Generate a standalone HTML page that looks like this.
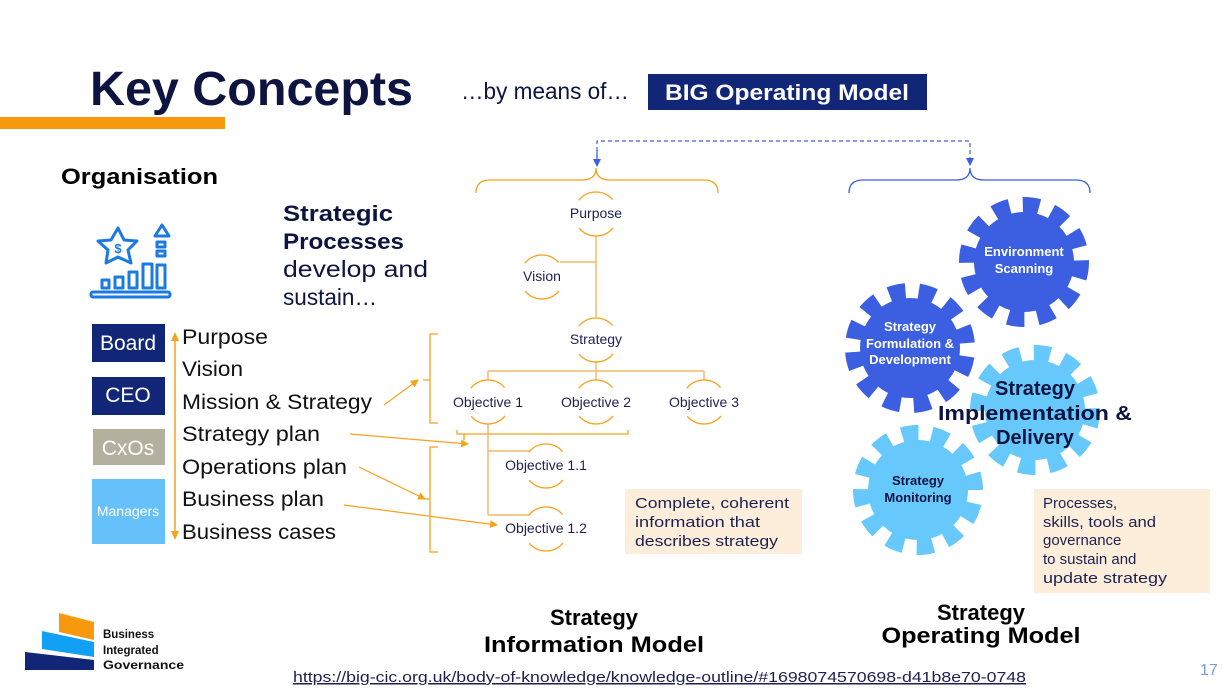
<!DOCTYPE html>
<html><head><meta charset="utf-8"><style>
html,body{margin:0;padding:0;background:#fff}
svg{display:block}
text{font-family:"Liberation Sans",sans-serif}
</style></head><body>
<svg width="1225" height="693" viewBox="0 0 1225 693" xmlns="http://www.w3.org/2000/svg">
<defs>
<marker id="ao" markerWidth="8" markerHeight="8" refX="7" refY="4" orient="auto" markerUnits="userSpaceOnUse"><path d="M0,0 L8,4 L0,8z" fill="#f7a21b"/></marker>
<marker id="ab" markerWidth="8" markerHeight="8" refX="7" refY="4" orient="auto" markerUnits="userSpaceOnUse"><path d="M0,0 L8,4 L0,8z" fill="#3b5fe0"/></marker>
</defs>
<!-- title -->
<text x="90" y="105" font-size="48" font-weight="bold" fill="#0d1440" textLength="323" lengthAdjust="spacingAndGlyphs">Key Concepts</text>
<rect x="0" y="117" width="225" height="12" fill="#f7990c"/>
<text x="461" y="99" font-size="23" fill="#0d1440" textLength="168" lengthAdjust="spacingAndGlyphs">…by means of…</text>
<rect x="648" y="74" width="279" height="36" fill="#122678"/>
<text x="787" y="100" font-size="22" font-weight="bold" fill="#fff" text-anchor="middle" textLength="244" lengthAdjust="spacingAndGlyphs">BIG Operating Model</text>
<!-- dashed -->
<path d="M597,165 V141 H970 V165" fill="none" stroke="#3b5fe0" stroke-width="1.2" stroke-dasharray="4 3" marker-end="url(#ab)"/>
<path d="M597,150 V166" stroke="#3b5fe0" stroke-width="1.2" marker-end="url(#ab)"/>
<!-- braces -->
<path d="M476,193 Q476,180 490,180 H582 Q596,180 596,168 Q596,180 610,180 H704 Q718,180 718,193" fill="none" stroke="#f7a21b" stroke-width="1.3"/>
<path d="M849,193 Q849,180 863,180 H956 Q970,180 970,168 Q970,180 984,180 H1076 Q1090,180 1090,193" fill="none" stroke="#3b5fe0" stroke-width="1.3"/>
<!-- Organisation -->
<text x="61" y="184" font-size="22" font-weight="bold" fill="#000" textLength="157" lengthAdjust="spacingAndGlyphs">Organisation</text>
<g fill="none" stroke="#1a7ae0" stroke-width="3" stroke-linejoin="round" stroke-linecap="round">
<path d="M118,228 L124,240 L137,241 L128,250 L131,263 L118,257 L106,263 L108,250 L98,241 L111,240Z"/>
<rect x="91" y="292" width="79" height="5" rx="2"/>
<rect x="102" y="280" width="7" height="8"/><rect x="115" y="277" width="8" height="11"/><rect x="129" y="272" width="8" height="16"/><rect x="143" y="264" width="9" height="24"/><rect x="157" y="265" width="8" height="23"/>
<rect x="157" y="242" width="8" height="5"/><rect x="157" y="251" width="8" height="5"/>
<path d="M155,236 L162,225 L169,236Z"/>
</g>
<text x="118" y="253" font-size="13" font-weight="bold" fill="#1a7ae0" text-anchor="middle">$</text>
<!-- strategic processes -->
<text x="283" y="221" font-size="22" font-weight="bold" fill="#0d1440" textLength="110" lengthAdjust="spacingAndGlyphs">Strategic</text>
<text x="283" y="249" font-size="22" font-weight="bold" fill="#0d1440" textLength="121" lengthAdjust="spacingAndGlyphs">Processes</text>
<text x="283" y="277" font-size="23" fill="#0d1440" textLength="145" lengthAdjust="spacingAndGlyphs">develop and</text>
<text x="283" y="305" font-size="23" fill="#0d1440" textLength="94" lengthAdjust="spacingAndGlyphs">sustain…</text>
<!-- boxes -->
<rect x="92" y="324" width="73" height="38" fill="#122678"/><text x="128" y="350" font-size="21" fill="#fff" text-anchor="middle">Board</text>
<rect x="92" y="377" width="73" height="38" fill="#122678"/><text x="128" y="402" font-size="21" fill="#fff" text-anchor="middle">CEO</text>
<rect x="93" y="429" width="72" height="36" fill="#b3b09d"/><text x="128" y="455" font-size="21" fill="#fff" text-anchor="middle">CxOs</text>
<rect x="92" y="479" width="73" height="65" fill="#66c1fb"/><text x="128" y="516" font-size="14" fill="#fff" text-anchor="middle">Managers</text>
<path d="M175,340 V533" stroke="#f7a21b" stroke-width="1.5"/>
<path d="M175,332 l-4,9 h8z M175,540 l-4,-9 h8z" fill="#f7a21b"/>
<g font-size="21.5" fill="#111" lengthAdjust="spacingAndGlyphs">
<text x="182" y="344" textLength="86" lengthAdjust="spacingAndGlyphs">Purpose</text><text x="182" y="376" textLength="61" lengthAdjust="spacingAndGlyphs">Vision</text><text x="182" y="409" textLength="190" lengthAdjust="spacingAndGlyphs">Mission &amp; Strategy</text><text x="182" y="441" textLength="138" lengthAdjust="spacingAndGlyphs">Strategy plan</text><text x="182" y="474" textLength="165" lengthAdjust="spacingAndGlyphs">Operations plan</text><text x="182" y="506" textLength="142" lengthAdjust="spacingAndGlyphs">Business plan</text><text x="182" y="539" textLength="154" lengthAdjust="spacingAndGlyphs">Business cases</text>
</g>
<!-- left brackets -->
<g fill="none" stroke="#f7a21b" stroke-width="1.3">
<path d="M438,334 H430 V423 H438 M430,380 H423"/>
<path d="M438,447 H430 V552 H438 M430,499 H423"/>
<path d="M457,430 V434 H628 V430 M464,434 V440"/>
</g>
<g stroke="#f7a21b" stroke-width="1.2" fill="none">
<path d="M384,405 L418,380" marker-end="url(#ao)"/>
<path d="M350,434 L468,444" marker-end="url(#ao)"/>
<path d="M359,467 L425,499" marker-end="url(#ao)"/>
<path d="M344,505 L497,525" marker-end="url(#ao)"/>
</g>
<!-- tree lines -->
<g stroke="#f7b96a" stroke-width="1.5" fill="none">
<path d="M596,236 V317 M560,262 H596"/>
<path d="M596,361 V380 M488,371 H704 M488,371 V380 M704,371 V380"/>
<path d="M488,424 V515 M488,451 H530 M488,515 H530"/>
</g>
<!-- nodes -->
<g fill="none" stroke="#f7a21b" stroke-width="1.3" stroke-dasharray="28 22" stroke-dashoffset="-11">
<circle cx="596" cy="214" r="22" pathLength="100"/>
<circle cx="542" cy="277" r="22" pathLength="100"/>
<circle cx="596" cy="340" r="22" pathLength="100"/>
<circle cx="488" cy="402" r="22" pathLength="100"/>
<circle cx="596" cy="402" r="22" pathLength="100"/>
<circle cx="704" cy="402" r="22" pathLength="100"/>
<circle cx="546" cy="466" r="22" pathLength="100"/>
<circle cx="546" cy="529" r="22" pathLength="100"/>
</g>
<g font-size="14" fill="#1d2150" text-anchor="middle">
<text x="596" y="218">Purpose</text><text x="542" y="281">Vision</text><text x="596" y="344">Strategy</text>
<text x="488" y="407">Objective 1</text><text x="596" y="407">Objective 2</text><text x="704" y="407">Objective 3</text>
<text x="546" y="470">Objective 1.1</text><text x="546" y="533">Objective 1.2</text>
</g>
<rect x="625" y="489" width="177" height="65" fill="#fdeedb"/>
<g font-size="15" fill="#1d2150"><text x="635" y="508" textLength="154" lengthAdjust="spacingAndGlyphs">Complete, coherent</text><text x="635" y="527" textLength="125" lengthAdjust="spacingAndGlyphs">information that</text><text x="635" y="546" textLength="143" lengthAdjust="spacingAndGlyphs">describes strategy</text></g>
<!-- gears -->
<g fill="none" stroke-dasharray="4.6 3.7" stroke-width="18">
<circle cx="1024" cy="262" r="56" stroke="#3b5fe0" pathLength="100"/>
<circle cx="910" cy="348" r="56" stroke="#3b5fe0" pathLength="100" transform="rotate(10 910 348)"/>
<circle cx="1035" cy="410" r="56" stroke="#66c8fb" pathLength="100"/>
<circle cx="918" cy="490" r="56" stroke="#66c8fb" pathLength="100" transform="rotate(15 918 490)"/>
</g>
<circle cx="1024" cy="262" r="50" fill="#3b5fe0"/>
<circle cx="910" cy="348" r="50" fill="#3b5fe0"/>
<circle cx="1035" cy="410" r="50" fill="#66c8fb"/>
<circle cx="918" cy="490" r="50" fill="#66c8fb"/>
<g font-weight="bold" text-anchor="middle">
<text x="1024" y="256" font-size="13" fill="#fff">Environment</text><text x="1024" y="273" font-size="13" fill="#fff">Scanning</text>
<text x="910" y="331" font-size="13" fill="#fff">Strategy</text><text x="910" y="348" font-size="13" fill="#fff">Formulation &amp;</text><text x="910" y="364" font-size="13" fill="#fff">Development</text>
<text x="1035" y="395" font-size="20" fill="#0d1440">Strategy</text><text x="1035" y="420" font-size="20" fill="#0d1440" textLength="194" lengthAdjust="spacingAndGlyphs">Implementation &amp;</text><text x="1035" y="444" font-size="20" fill="#0d1440">Delivery</text>
<text x="918" y="485" font-size="13" fill="#0d1440">Strategy</text><text x="918" y="502" font-size="13" fill="#0d1440">Monitoring</text>
</g>
<rect x="1034" y="489" width="176" height="104" fill="#fdeedb"/>
<g font-size="15" fill="#1d2150"><text x="1043" y="508">Processes,</text><text x="1043" y="527" textLength="113" lengthAdjust="spacingAndGlyphs">skills, tools and</text><text x="1043" y="545">governance</text><text x="1043" y="564">to sustain and</text><text x="1043" y="583" textLength="124" lengthAdjust="spacingAndGlyphs">update strategy</text></g>
<!-- bottom labels -->
<g font-weight="bold" font-size="22" fill="#000" text-anchor="middle">
<text x="594" y="625">Strategy</text><text x="594" y="652" textLength="220" lengthAdjust="spacingAndGlyphs">Information Model</text>
<text x="981" y="620">Strategy</text><text x="981" y="643" textLength="199" lengthAdjust="spacingAndGlyphs">Operating Model</text>
</g>
<!-- logo -->
<path d="M59,613 L94,622 V640 L59,632Z" fill="#f7990c"/>
<path d="M42,631 L94,642 V657 L42,649Z" fill="#12a0f5"/>
<path d="M25,652 L94,660 V670 H25Z" fill="#122678"/>
<g font-size="11.5" font-weight="bold" fill="#111"><text x="103" y="638">Business</text><text x="103" y="654">Integrated</text><text x="103" y="669" textLength="81" lengthAdjust="spacingAndGlyphs">Governance</text></g>
<text x="293" y="682" font-size="15" fill="#1d2150" text-decoration="underline" textLength="733" lengthAdjust="spacingAndGlyphs">https://big-cic.org.uk/body-of-knowledge/knowledge-outline/#1698074570698-d41b8e70-0748</text>
<text x="1200" y="675" font-size="16" fill="#7a9be8">17</text>
</svg>
</body></html>
